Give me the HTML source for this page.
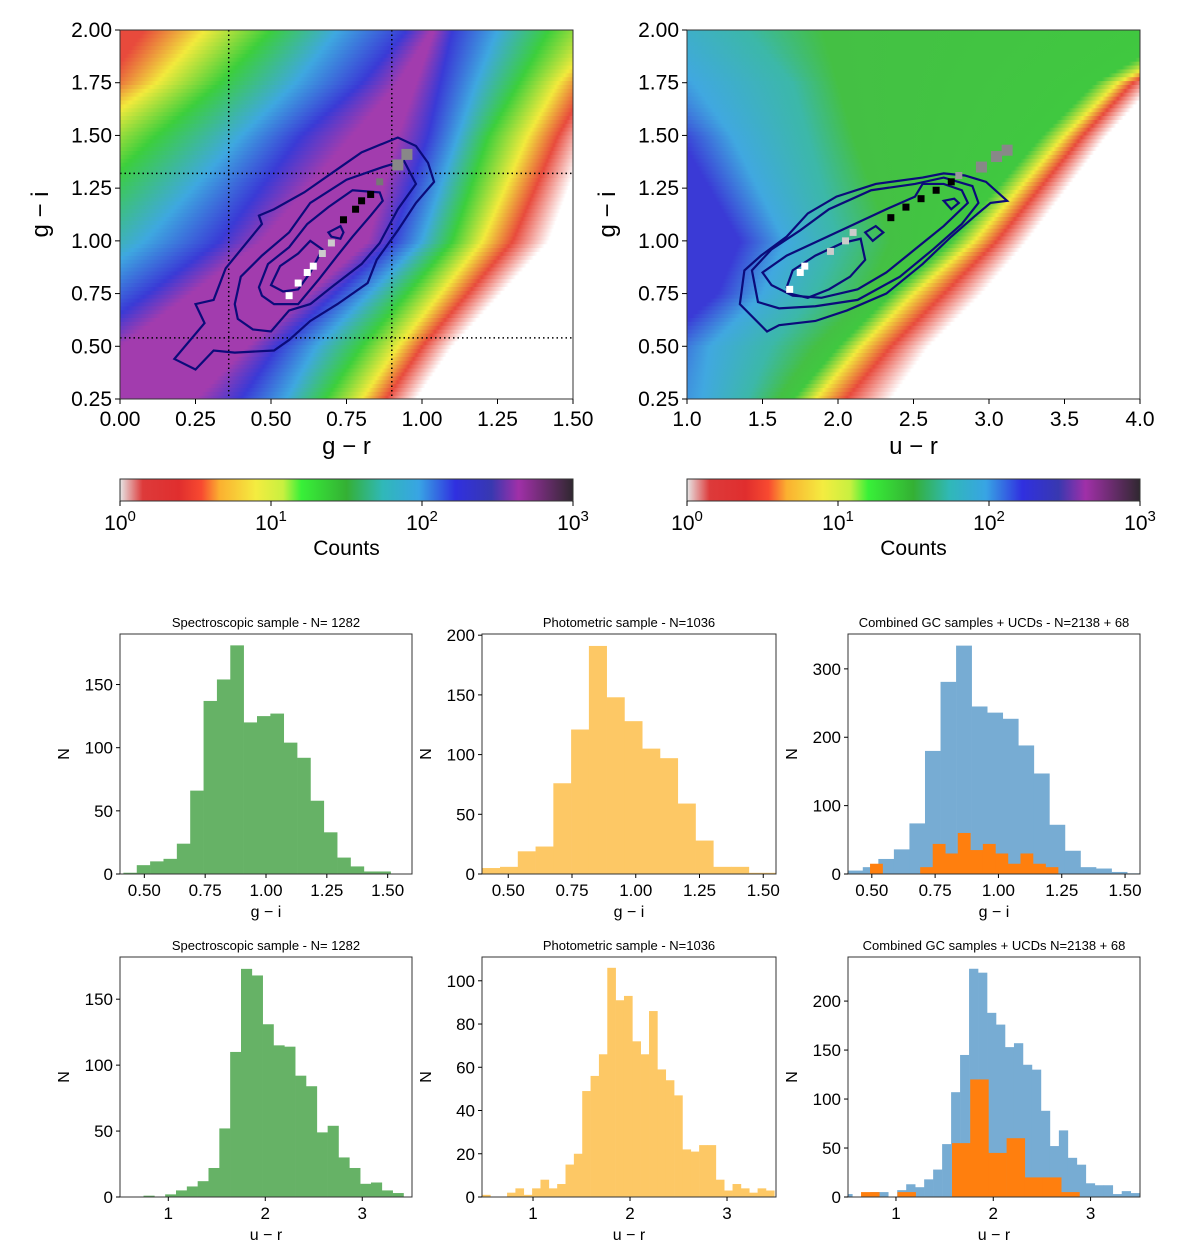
<!DOCTYPE html>
<html><head><meta charset="utf-8"><style>
body{margin:0;background:#fff;}
svg text{font-family:"Liberation Sans","DejaVu Sans",sans-serif;fill:#000;}
</style></head><body>
<svg id="fig" width="1200" height="1245" viewBox="0 0 1200 1245" xmlns="http://www.w3.org/2000/svg">
<defs id="defs"></defs>
</svg>
<script>
// ---------- histogram data ----------
const specGI_start = 0.414, specGI_width = 0.0549;
const specGI_values = [1,7,10,12,24,66,137,154,181,120,125,127,104,92,58,33,13,6,2,2];
const photGI_start = 0.398, photGI_width = 0.0697;
const photGI_values = [5,6,19,23,76,121,191,148,128,105,97,59,28,6,6,1,1];
const combGI_start = 0.403, combGI_width = 0.0614;
const combGI_values = [5,10,22,36,74,180,281,334,245,236,227,188,147,72,34,10,8,3,1];
const ucdGI_start = 0.493, ucdGI_width = 0.0495;
const ucdGI_values = [15,0,0,0,10,44,30,60,35,44,30,15,30,15,10];
const specUR_start = 0.521, specUR_width = 0.1117;
const specUR_values = [0,0,1,0,2,5,8,12,22,52,110,173,168,131,115,114,92,84,49,54,30,22,10,11,5,3];
const photUR_start = 0.474, photUR_width = 0.0861;
const photUR_values = [1,0,0,2,4,1,4,8,4,6,15,20,49,56,66,106,91,93,72,66,86,59,54,47,22,21,24,24,8,3,6,4,2,4,3];
const combUR_start = 0.459, combUR_width = 0.0923;
const combUR_values = [3,0,0,5,5,0,7,13,10,18,28,54,107,145,233,229,188,176,153,157,135,130,88,52,68,40,33,14,12,12,3,6,4];
const ucdUR_start = 0.641, ucdUR_width = 0.187;
const ucdUR_values = [5,0,5,0,0,55,120,45,60,20,20,5];
const giTicks = [0.5,0.75,1.0,1.25,1.5];
const giTickLabels = ["0.50","0.75","1.00","1.25","1.50"];
const urTicks = [1,2,3];
const urTickLabels = ["1","2","3"];

// ---------- top panel data ----------
const leftXTicks = [0,0.25,0.5,0.75,1.0,1.25,1.5];
const leftXTickLabels = ["0.00","0.25","0.50","0.75","1.00","1.25","1.50"];
const rightXTicks = [1.0,1.5,2.0,2.5,3.0,3.5,4.0];
const rightXTickLabels = ["1.0","1.5","2.0","2.5","3.0","3.5","4.0"];
const yTicks = [0.25,0.5,0.75,1.0,1.25,1.5,1.75,2.0];
const yTickLabels = ["0.25","0.50","0.75","1.00","1.25","1.50","1.75","2.00"];

const leftContours = [
 [[0.18,0.44],[0.25,0.39],[0.31,0.48],[0.38,0.47],[0.51,0.48],[0.56,0.53],[0.63,0.62],[0.72,0.70],[0.82,0.80],[0.85,0.91],[0.92,1.05],[0.98,1.18],[1.04,1.28],[1.02,1.37],[0.98,1.45],[0.92,1.49],[0.80,1.42],[0.73,1.35],[0.61,1.23],[0.51,1.15],[0.46,1.12],[0.47,1.08],[0.35,0.87],[0.31,0.72],[0.25,0.70],[0.28,0.61]],
 [[0.38,0.70],[0.40,0.83],[0.47,0.93],[0.56,1.04],[0.63,1.18],[0.75,1.29],[0.87,1.35],[0.94,1.38],[0.98,1.27],[0.92,1.15],[0.86,0.99],[0.80,0.89],[0.70,0.78],[0.63,0.70],[0.56,0.67],[0.50,0.57],[0.44,0.58],[0.39,0.63]],
 [[0.46,0.78],[0.49,0.89],[0.56,0.97],[0.62,1.08],[0.69,1.16],[0.77,1.24],[0.86,1.23],[0.87,1.19],[0.83,1.12],[0.77,1.02],[0.72,0.93],[0.66,0.82],[0.59,0.70],[0.51,0.70],[0.47,0.74]],
 [[0.50,0.79],[0.53,0.88],[0.59,0.94],[0.63,1.00],[0.67,0.96],[0.63,0.85],[0.59,0.77],[0.54,0.76]],
 [[0.69,1.04],[0.73,1.07],[0.74,1.04],[0.73,1.01],[0.70,1.02]]
];
const rightContours = [
 [[1.35,0.70],[1.38,0.86],[1.49,0.93],[1.66,1.02],[1.80,1.13],[1.99,1.21],[2.25,1.27],[2.56,1.30],[2.70,1.32],[2.84,1.31],[2.98,1.28],[3.12,1.19],[3.01,1.18],[2.91,1.12],[2.75,1.02],[2.56,0.89],[2.32,0.75],[2.06,0.67],[1.85,0.62],[1.61,0.60],[1.53,0.57]],
 [[1.43,0.86],[1.56,0.96],[1.75,1.05],[1.94,1.15],[2.22,1.24],[2.51,1.27],[2.70,1.30],[2.89,1.26],[2.93,1.18],[2.82,1.08],[2.63,0.96],[2.41,0.83],[2.13,0.72],[1.85,0.69],[1.61,0.68],[1.47,0.71]],
 [[1.50,0.85],[1.66,0.93],[1.87,1.00],[2.08,1.07],[2.32,1.15],[2.51,1.21],[2.56,1.27],[2.70,1.27],[2.82,1.24],[2.86,1.18],[2.70,1.07],[2.51,0.96],[2.32,0.85],[2.13,0.77],[1.89,0.73],[1.70,0.74],[1.56,0.79]],
 [[1.66,0.78],[1.70,0.86],[1.85,0.93],[2.03,0.99],[2.15,1.01],[2.18,0.91],[2.08,0.83],[1.94,0.77],[1.80,0.73],[1.68,0.75]],
 [[2.18,1.04],[2.25,1.07],[2.30,1.04],[2.23,1.00]],
 [[2.70,1.19],[2.77,1.20],[2.80,1.18],[2.75,1.15]]
];
const leftMarkersX = [0.56,0.59,0.62,0.64,0.67,0.70,0.74,0.78,0.80,0.83,0.86,0.92,0.95];
const leftMarkersY = [0.74,0.80,0.85,0.88,0.94,0.99,1.10,1.15,1.19,1.22,1.28,1.36,1.41];
const leftMarkersC = ["#fff","#fff","#fff","#fff","#ccc","#ccc","#000","#000","#000","#000","#777","#888","#888"];
const rightMarkersX = [1.68,1.75,1.78,1.95,2.05,2.1,2.35,2.45,2.55,2.65,2.75,2.8,2.95,3.05,3.12];
const rightMarkersY = [0.77,0.85,0.88,0.95,1.0,1.04,1.11,1.16,1.20,1.24,1.28,1.31,1.35,1.40,1.43];
const rightMarkersC = ["#fff","#fff","#fff","#ccc","#ccc","#ccc","#000","#000","#000","#000","#000","#999","#888","#888","#888"];

// heatmap colour bands
const leftLevels = [0.25,0.5,1.0,1.5,1.75,2.0];
const leftBandColors = ["#e84a3c","#f2ea3c","#3ccf3c","#3ea8e0","#3a3ad6","#a23cae","#a23cae","#3a3ad6","#3ea8e0","#3ccf3c","#f2ea3c","#e84a3c","#ffffff"];
const leftBandX = [
 [-1.2,-1.0,-0.8,-0.6,-0.4,-0.2,0.25,0.4,0.55,0.68,0.8,0.88,0.98],
 [-1.0,-0.8,-0.6,-0.4,-0.15,0.0,0.42,0.52,0.65,0.8,0.92,1.0,1.1],
 [-0.7,-0.45,-0.25,0.08,0.33,0.47,0.82,0.9,1.0,1.1,1.2,1.3,1.42],
 [-0.35,-0.12,0.12,0.4,0.6,0.77,0.92,1.02,1.12,1.22,1.35,1.45,1.55],
 [-0.05,0.12,0.33,0.58,0.8,0.92,0.98,1.06,1.18,1.32,1.45,1.55,1.65],
 [0.08,0.28,0.5,0.72,0.95,1.03,1.04,1.1,1.25,1.42,1.6,1.7,1.8]];
const rightLevels = [0.25,0.5,0.75,1.0,1.5,1.75,2.0];
const rightBandColors = ["#3a3ad6","#40a8e0","#3cb8a8","#44c044","#40c840","#f2ea3c","#e84a3c","#ffffff"];
const rightBandX = [
 [0.5,1.1,1.4,1.6,1.7,1.85,2.05,2.35],
 [0.8,1.15,1.55,1.85,2.0,2.15,2.35,2.6],
 [1.2,1.5,1.85,2.2,2.35,2.5,2.7,2.95],
 [1.35,1.65,2.0,2.35,2.75,2.9,3.05,3.25],
 [0.95,1.3,1.8,2.1,3.35,3.5,3.62,3.78],
 [0.5,1.05,1.7,2.0,3.7,3.85,3.95,4.1],
 [0.2,0.7,1.4,1.9,4.3,4.5,4.6,4.8]];

// ---------- helpers ----------
const NS = "http://www.w3.org/2000/svg";
const svg = document.getElementById('fig');
const defs = document.getElementById('defs');
function mk(tag, attrs, parent){
  const e = document.createElementNS(NS, tag);
  for (const k in attrs) e.setAttribute(k, attrs[k]);
  (parent||svg).appendChild(e);
  return e;
}
function txt(s, x, y, size, anchor, parent, rot){
  const t = mk('text', {x:x, y:y, 'font-size':size, 'text-anchor':anchor||'middle'}, parent);
  if (rot) t.setAttribute('transform', 'rotate(-90 '+x+' '+y+')');
  t.textContent = s;
  return t;
}
let gid = 0;

function histPanel(name, box, xr, yr, xticks, xlabels, yticks, title, xlabel, series, fs){
  const g = mk('g', {});
  
  
  const X = v => box.x0 + (v - xr[0]) / (xr[1]-xr[0]) * (box.x1-box.x0);
  const Y = v => box.y1 - (v - yr[0]) / (yr[1]-yr[0]) * (box.y1-box.y0);
  const cid = 'clip'+(gid++);
  const cp = mk('clipPath', {id:cid}, defs);
  mk('rect', {x:box.x0, y:box.y0, width:box.x1-box.x0, height:box.y1-box.y0}, cp);
  const bars = mk('g', {'clip-path':'url(#'+cid+')'}, g);
  series.forEach(s => {
    s.values.forEach((v, i) => {
      if (v <= 0) return;
      const a = X(s.start + i*s.width), b = X(s.start + (i+1)*s.width);
      const r = mk('rect', {x:a, y:Y(v), width:b-a+0.3, height:box.y1-Y(v), fill:s.color}, bars);
      
      
    });
  });
  const frame = mk('rect', {x:box.x0, y:box.y0, width:box.x1-box.x0, height:box.y1-box.y0, fill:'none', stroke:'#333', 'stroke-width':1}, g);
  
  
  xticks.forEach((t, i) => {
    const x = X(t);
    mk('line', {x1:x, x2:x, y1:box.y1, y2:box.y1+4, stroke:'#000'}, g);
    const l = txt(xlabels[i], x, box.y1+22, fs, 'middle', g);
    
    
  });
  yticks.forEach(t => {
    const y = Y(t);
    mk('line', {x1:box.x0-4, x2:box.x0, y1:y, y2:y, stroke:'#000'}, g);
    const l = txt(String(t), box.x0-7, y+6, fs, 'end', g);
    
    
  });
  const tt = txt(title, (box.x0+box.x1)/2, box.y0-7, 13, 'middle', g);
  
  
  const xl = txt(xlabel, (box.x0+box.x1)/2, box.y1+43, 16, 'middle', g);
  
  
  const yl = txt('N', box.x0-51, (box.y0+box.y1)/2, 16, 'middle', g, true);
  
  
}

const GREEN='#66b266', YEL='#fdc865', BLUE='#77acd3', ORA='#ff7f0e';
const r1 = {y0:634, y1:874}, r2 = {y0:957, y1:1197};
const c1 = {x0:120, x1:412}, c2 = {x0:482, x1:776}, c3 = {x0:848, x1:1140};
function B(c, r){ return {x0:c.x0, x1:c.x1, y0:r.y0, y1:r.y1}; }

histPanel('hist-spec-gi', B(c1,r1), [0.4,1.6], [0,190], giTicks, giTickLabels, [0,50,100,150], 'Spectroscopic sample - N= 1282', 'g − i',
 [{name:'spec-gi', start:specGI_start, width:specGI_width, values:specGI_values, color:GREEN}], 17);
histPanel('hist-phot-gi', B(c2,r1), [0.397,1.55], [0,201], giTicks, giTickLabels, [0,50,100,150,200], 'Photometric sample - N=1036', 'g − i',
 [{name:'phot-gi', start:photGI_start, width:photGI_width, values:photGI_values, color:YEL}], 17);
histPanel('hist-comb-gi', B(c3,r1), [0.406,1.559], [0,351], giTicks, giTickLabels, [0,100,200,300], 'Combined GC samples + UCDs - N=2138 + 68', 'g − i',
 [{name:'comb-gi', start:combGI_start, width:combGI_width, values:combGI_values, color:BLUE},
  {name:'ucd-gi', start:ucdGI_start, width:ucdGI_width, values:ucdGI_values, color:ORA}], 17);
histPanel('hist-spec-ur', B(c1,r2), [0.502,3.513], [0,182], urTicks, urTickLabels, [0,50,100,150], 'Spectroscopic sample - N= 1282', 'u − r',
 [{name:'spec-ur', start:specUR_start, width:specUR_width, values:specUR_values, color:GREEN}], 17);
histPanel('hist-phot-ur', B(c2,r2), [0.474,3.505], [0,111], urTicks, urTickLabels, [0,20,40,60,80,100], 'Photometric sample - N=1036', 'u − r',
 [{name:'phot-ur', start:photUR_start, width:photUR_width, values:photUR_values, color:YEL}], 17);
histPanel('hist-comb-ur', B(c3,r2), [0.507,3.508], [0,245], urTicks, urTickLabels, [0,50,100,150,200], 'Combined GC samples + UCDs N=2138 + 68', 'u − r',
 [{name:'comb-ur', start:combUR_start, width:combUR_width, values:combUR_values, color:BLUE},
  {name:'ucd-ur', start:ucdUR_start, width:ucdUR_width, values:ucdUR_values, color:ORA}], 17);

// ---------- density panels ----------
function densityPanel(name, box, xr, yr, xticks, xlabels, levels, bandX, bandColors, contours, mX, mY, mC, xlabel, dotted){
  const g = mk('g', {});
  
  
  const X = v => box.x0 + (v - xr[0]) / (xr[1]-xr[0]) * (box.x1-box.x0);
  const Y = v => box.y1 - (v - yr[0]) / (yr[1]-yr[0]) * (box.y1-box.y0);
  const cid = 'clip'+(gid++);
  const cp = mk('clipPath', {id:cid}, defs);
  mk('rect', {x:box.x0, y:box.y0, width:box.x1-box.x0, height:box.y1-box.y0}, cp);
  const heat = mk('g', {'clip-path':'url(#'+cid+')'}, g);
  
  
  const nRows = 95;
  const dy = (yr[1]-yr[0]) / nRows;
  for (let r = 0; r < nRows; r++){
    const yc = yr[0] + (r+0.5)*dy;
    let k = 0;
    while (k < levels.length-2 && yc > levels[k+1]) k++;
    const f = Math.max(0, Math.min(1, (yc - levels[k])/(levels[k+1]-levels[k])));
    const xs = bandX[k].map((v,i) => v + (bandX[k+1][i]-v)*f);
    const p0 = X(xs[0]), p1 = X(xs[xs.length-1]);
    const id = 'grad'+(gid++);
    const lg = mk('linearGradient', {id:id, gradientUnits:'userSpaceOnUse', x1:p0, x2:p1, y1:0, y2:0}, defs);
    xs.forEach((v,i) => mk('stop', {offset:(X(v)-p0)/(p1-p0), 'stop-color':bandColors[i]}, lg));
    mk('rect', {x:box.x0, y:Y(yc+dy/2), width:box.x1-box.x0, height:(box.y1-box.y0)/nRows+0.6, fill:'url(#'+id+')'}, heat);
  }
  if (dotted){
    dotted.vx.forEach(v => mk('line', {x1:X(v), x2:X(v), y1:box.y0, y2:box.y1, stroke:'#000', 'stroke-width':1.5, 'stroke-dasharray':'1.5 3'}, heat));
    dotted.hy.forEach(v => mk('line', {x1:box.x0, x2:box.x1, y1:Y(v), y2:Y(v), stroke:'#000', 'stroke-width':1.5, 'stroke-dasharray':'1.5 3'}, heat));
  }
  contours.forEach(c => {
    const p = mk('polygon', {points:c.map(q => X(q[0])+','+Y(q[1])).join(' '), fill:'none', stroke:'#0b0b7a', 'stroke-width':2.2}, heat);
    
    
  });
  mX.forEach((v,i) => {
    const big = mC[i] === '#888';
    const s = big ? 11 : 7;
    const m = mk('rect', {x:X(v)-s/2, y:Y(mY[i])-s/2, width:s, height:s, fill:mC[i]}, heat);
    
    
  });
  mk('rect', {x:box.x0, y:box.y0, width:box.x1-box.x0, height:box.y1-box.y0, fill:'none', stroke:'#333', 'stroke-width':1}, g);
  xticks.forEach((t,i) => {
    const x = X(t);
    mk('line', {x1:x, x2:x, y1:box.y1, y2:box.y1+5, stroke:'#000'}, g);
    const l = txt(xlabels[i], x, box.y1+27, 21, 'middle', g);
    
    
  });
  yTicks.forEach((t,i) => {
    const y = Y(t);
    mk('line', {x1:box.x0-5, x2:box.x0, y1:y, y2:y, stroke:'#000'}, g);
    const l = txt(yTickLabels[i], box.x0-8, y+7, 21, 'end', g);
    
    
  });
  const xl = txt(xlabel, (box.x0+box.x1)/2, box.y1+55, 24, 'middle', g);
  
  
  const yl = txt('g − i', box.x0-72, (box.y0+box.y1)/2, 24, 'middle', g, true);
  
  
}
densityPanel('density-gr-gi', {x0:120,x1:573,y0:30,y1:399}, [0,1.5], [0.25,2.0], leftXTicks, leftXTickLabels,
  leftLevels, leftBandX, leftBandColors, leftContours, leftMarkersX, leftMarkersY, leftMarkersC, 'g − r', {vx:[0.36,0.9], hy:[1.32,0.54]});
densityPanel('density-ur-gi', {x0:687,x1:1140,y0:30,y1:399}, [1.0,4.0], [0.25,2.0], rightXTicks, rightXTickLabels,
  rightLevels, rightBandX, rightBandColors, rightContours, rightMarkersX, rightMarkersY, rightMarkersC, 'u − r', null);

// ---------- colorbars ----------
const cbStops = [[0,'#e6e6e6'],[0.05,'#dd3a3a'],[0.13,'#e02e2e'],[0.18,'#f84a30'],[0.22,'#fbb030'],[0.3,'#f4ec40'],[0.36,'#c8f040'],[0.4,'#38f038'],[0.5,'#34b034'],[0.58,'#30b8b8'],[0.66,'#38a4e4'],[0.74,'#3030e0'],[0.82,'#3838b0'],[0.88,'#a030a8'],[1,'#302830']];
const cbg = mk('linearGradient', {id:'cbgrad', x1:0, x2:1, y1:0, y2:0}, defs);
cbStops.forEach(s => mk('stop', {offset:s[0], 'stop-color':s[1]}, cbg));
const cbExp = ['0','1','2','3'];
[[120,573],[687,1140]].forEach((c,ci) => {
  const g = mk('g', {});
  
  
  mk('rect', {x:c[0], y:479, width:c[1]-c[0], height:22, fill:'url(#cbgrad)', stroke:'#333', 'stroke-width':1}, g);
  cbExp.forEach((e,i) => {
    const x = c[0] + i*(c[1]-c[0])/3;
    mk('line', {x1:x, x2:x, y1:501, y2:506, stroke:'#000'}, g);
    const t = mk('text', {x:x, y:530, 'font-size':21, 'text-anchor':'middle'}, g);
    
    
    const a = mk('tspan', {}, t); a.textContent = '10';
    const b = mk('tspan', {dy:-9, 'font-size':15}, t); b.textContent = e;
  });
  const l = txt('Counts', (c[0]+c[1])/2, 555, 21, 'middle', g);
  
  
});
</script>
</body></html>
